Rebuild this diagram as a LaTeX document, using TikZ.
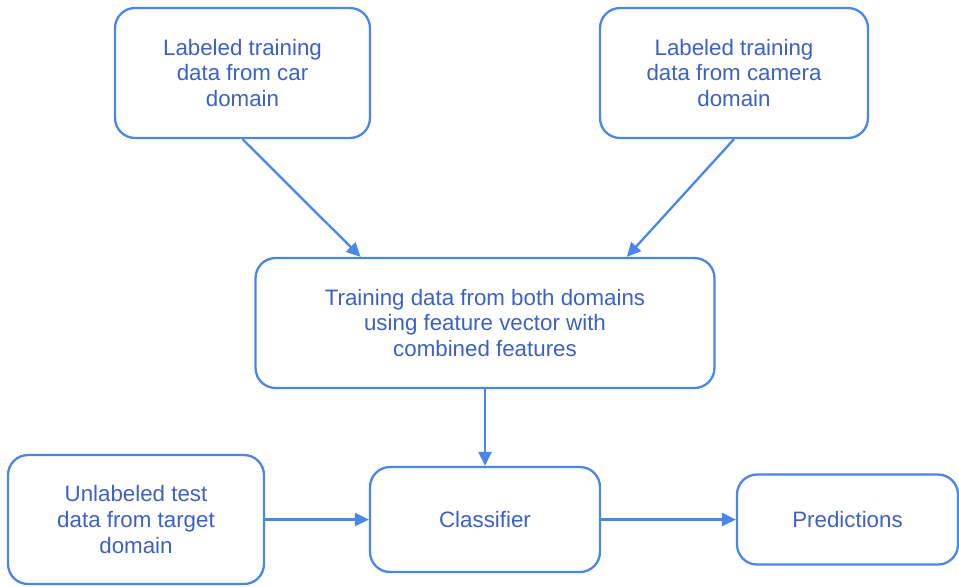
\documentclass[tikz,border=0pt]{standalone}
\usepackage{fontspec}
\setmainfont{Liberation Sans}
\usetikzlibrary{arrows.meta}
\definecolor{linea}{HTML}{4A86E8}
\definecolor{texto}{HTML}{3C61C6}
\begin{document}
\begin{tikzpicture}[x=0.02cm,y=-0.02cm,
    caja/.style={draw=linea, line width=1.3pt, rounded corners=0.4cm,
        align=center, text=texto, inner sep=0pt,
        font=\fontsize{12.7}{14.7}\selectfont},
    flecha/.style={draw=linea, line width=1.3pt,
        -{Triangle[length=8pt,width=7.5pt]}}]
    % Definir el marco
    \useasboundingbox (0,0) rectangle (959,586);

    % Dibujar las cajas de entrenamiento
    \node[caja, minimum width=5.1cm, minimum height=2.6cm] (car) at (242.5,73)
        {Labeled training\\data from car\\domain};
    \node[caja, minimum width=5.36cm, minimum height=2.6cm] (camera) at (734,73)
        {Labeled training\\data from camera\\domain};
    \node[caja, minimum width=9.18cm, minimum height=2.6cm] (both) at (485,323)
        {Training data from both domains\\using feature vector with\\combined features};

    % Dibujar las cajas de abajo
    \node[caja, minimum width=5.12cm, minimum height=2.58cm] (test) at (136,519.5)
        {Unlabeled test\\data from target\\domain};
    \node[caja, minimum width=4.6cm, minimum height=2.1cm] (clf) at (485,519.5)
        {Classifier};
    \node[caja, minimum width=4.42cm, minimum height=1.8cm] (pred) at (847.5,519.5)
        {Predictions};

    % Dibujar las flechas
    \draw[flecha] (car.south) -- (both.152.6);
    \draw[flecha] (camera.south) -- (both.25.5);
    \draw[flecha] (both.south) -- (clf.north);
    \draw[flecha] (test.east) -- (clf.west);
    \draw[flecha] (clf.east) -- (pred.west);
\end{tikzpicture}
\end{document}
